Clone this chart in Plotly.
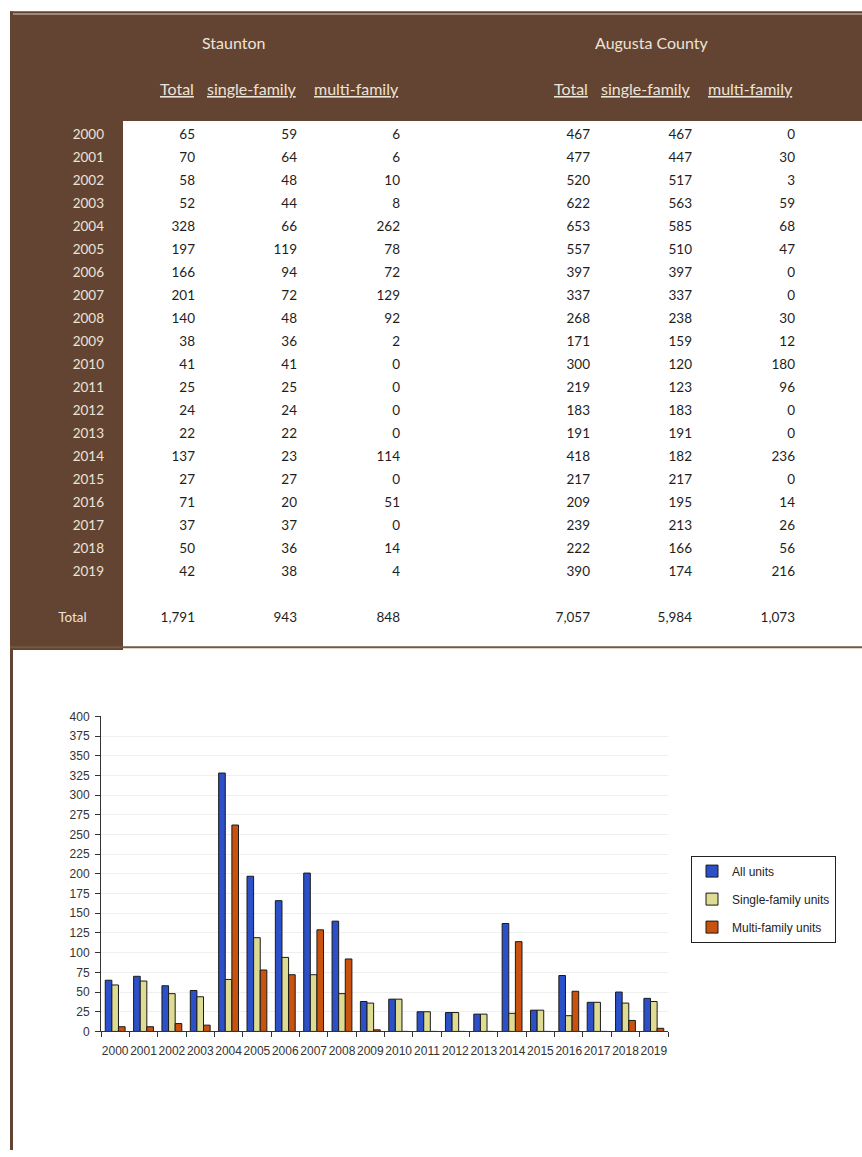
import plotly.graph_objects as go

# ---------------- data ----------------
years = [str(y) for y in range(2000, 2020)]
staunton_total = [65, 70, 58, 52, 328, 197, 166, 201, 140, 38, 41, 25, 24, 22, 137, 27, 71, 37, 50, 42]
staunton_single = [59, 64, 48, 44, 66, 119, 94, 72, 48, 36, 41, 25, 24, 22, 23, 27, 20, 37, 36, 38]
staunton_multi = [6, 6, 10, 8, 262, 78, 72, 129, 92, 2, 0, 0, 0, 0, 114, 0, 51, 0, 14, 4]
augusta_total = [467, 477, 520, 622, 653, 557, 397, 337, 268, 171, 300, 219, 183, 191, 418, 217, 209, 239, 222, 390]
augusta_single = [467, 447, 517, 563, 585, 510, 397, 337, 238, 159, 120, 123, 183, 191, 182, 217, 195, 213, 166, 174]
augusta_multi = [0, 30, 3, 59, 68, 47, 0, 0, 30, 12, 180, 96, 0, 0, 236, 0, 14, 26, 56, 216]

region_names = ["Staunton", "Augusta County"]
column_heads = ["Total", "single-family", "multi-family"]
total_label = "Total"
series_names = ["All units", "Single-family units", "Multi-family units"]

# ---------------- style ----------------
W, H = 862, 1157
BROWN = "#634331"
LIGHT = "#ece3d8"
DARK = "#1e1e1e"
TFONT = "Lato, Open Sans, sans-serif"
CFONT = "Arial, Liberation Sans, sans-serif"
BAR_COLORS = ["#2b50c8", "#dedb93", "#c9520f"]


def px(x):
    return x / W


def py(y):
    return 1 - y / H


def table_col(vals):
    return [str(v) for v in vals] + ["", f"{sum(vals):,}", ""]


blank = [""] * (len(years) + 3)
year_col = years + ["", total_label + "\u00a0" * 5, ""]

cols = [
    year_col, blank,
    table_col(staunton_total), table_col(staunton_single), table_col(staunton_multi),
    table_col(augusta_total), table_col(augusta_single), table_col(augusta_multi),
    blank,
]
fills = [BROWN, BROWN] + ["white"] * 7
fcolors = [LIGHT, LIGHT] + [DARK] * 7

fig = go.Figure()

fig.add_trace(go.Table(
    domain=dict(x=[px(10), 1], y=[0, py(3)]),
    columnwidth=[102, 11, 80, 102, 103, 190, 102, 103, 59],
    header=dict(values=[""] * 9, height=111, fill=dict(color=BROWN),
                line=dict(width=1, color=BROWN)),
    cells=dict(values=cols, height=23, align="right",
               fill=dict(color=fills), line=dict(width=1, color=fills),
               font=dict(family=TFONT, size=13.5, color=fcolors)),
))

series = [staunton_total, staunton_single, staunton_multi]
for name, vals, color in zip(series_names, series, BAR_COLORS):
    fig.add_trace(go.Bar(
        x=years, y=vals, name=name, legendgroup=name,
        marker=dict(color=color, line=dict(color="#1a1a1a", width=1)),
        xaxis="x", yaxis="y",
    ))

annotations = []
for name, cx in zip(region_names, [233, 652]):
    annotations.append(dict(text=name, x=px(cx), y=py(36), xref="paper", yref="paper",
                            showarrow=False, xanchor="center", yanchor="middle",
                            font=dict(family=TFONT, size=16, color=LIGHT)))
for rights in ([196, 298, 401], [590, 692, 795]):
    for head, rx in zip(column_heads, rights):
        annotations.append(dict(text=f"<u>{head}</u>", x=px(rx), y=py(82), xref="paper",
                                yref="paper", showarrow=False, xanchor="right",
                                yanchor="middle",
                                font=dict(family=TFONT, size=16, color=LIGHT)))

shapes = [
    dict(type="rect", xref="paper", yref="paper", x0=0, x1=1, y0=py(4.5), y1=1,
         fillcolor="white", line=dict(width=0), layer="above"),
    dict(type="rect", xref="paper", yref="paper", x0=px(10), x1=1, y0=py(6.5), y1=py(4.5),
         fillcolor=BROWN, line=dict(width=0), layer="above"),
    dict(type="rect", xref="paper", yref="paper", x0=px(13), x1=1, y0=py(7.5), y1=py(6.5),
         fillcolor="#d9cfc6", line=dict(width=0), layer="above"),
    dict(type="rect", xref="paper", yref="paper", x0=px(10), x1=px(13), y0=0, y1=py(4.5),
         fillcolor=BROWN, line=dict(width=0), layer="above"),
    dict(type="line", xref="paper", yref="paper", x0=px(10), x1=1, y0=py(648), y1=py(648),
         line=dict(color="#76573f", width=2), layer="above"),
]

fig.update_layout(
    width=W, height=H,
    margin=dict(l=0, r=0, t=0, b=0),
    paper_bgcolor="white", plot_bgcolor="white",
    barmode="group", bargap=0.3, bargroupgap=0,
    font=dict(family=CFONT, size=12, color="#333333"),
    xaxis=dict(domain=[px(101), px(668)], anchor="y", type="category",
               showline=True, linecolor="#333333", linewidth=1,
               ticks="outside", tickson="boundaries", ticklen=5, tickcolor="#333333",
               tickangle=0, ticklabelstandoff=8,
               tickfont=dict(family=CFONT, size=12, color="#333333"),
               showgrid=False, zeroline=False),
    yaxis=dict(domain=[py(1037), py(718)], anchor="x", range=[0, 400], dtick=25,
               showline=True, linecolor="#333333", linewidth=1,
               ticks="outside", ticklen=5, tickcolor="#333333",
               ticklabelstandoff=3,
               tickfont=dict(family=CFONT, size=12, color="#333333"),
               showgrid=True, gridcolor="#efefef", gridwidth=1, zeroline=False),
    showlegend=True,
    legend=dict(x=px(691), y=py(859), xanchor="left", yanchor="top",
                bordercolor="#222222", borderwidth=1, bgcolor="white",
                font=dict(family=CFONT, size=12, color="#222222"),
                traceorder="grouped", tracegroupgap=9,
                itemwidth=30),
    annotations=annotations,
    shapes=shapes,
)

fig.write_html("out.html", config={"displayModeBar": False},
               post_script="document.body.style.margin='0px';")
